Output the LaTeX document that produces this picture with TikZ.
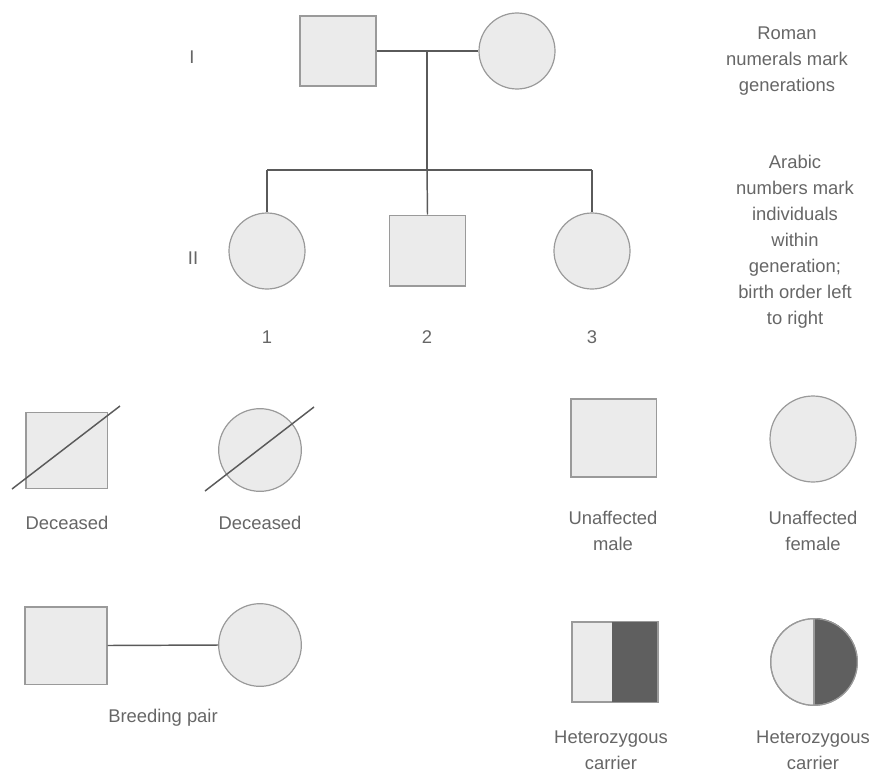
\documentclass[tikz,border=0pt]{standalone}
\usepackage{fontspec}
\setmainfont{Liberation Sans}
\definecolor{shapefill}{HTML}{EBEBEB}
\definecolor{shapeline}{HTML}{9A9A9A}
\definecolor{linkline}{HTML}{5A5A5A}
\definecolor{txt}{HTML}{666666}
\definecolor{darkfill}{HTML}{5F5F5F}
\begin{document}
\begin{tikzpicture}[x=0.75pt,y=-0.75pt,
  male/.style={rectangle,draw=shapeline,fill=shapefill,line width=1pt,inner sep=0pt},
  female/.style={circle,draw=shapeline,fill=shapefill,line width=0.9pt,inner sep=0pt},
  link/.style={draw=linkline,line width=1.1pt},
  lbl/.style={text=txt,font=\fontsize{13.8}{19.5}\selectfont,align=center,inner sep=0pt}]
\useasboundingbox (0,0) rectangle (877,774);
% generation I
\node[male,minimum width=57pt,minimum height=52.5pt] (m1) at (338,51) {};
\node[female,minimum size=57pt] (f1) at (517,51) {};
\draw[link] (m1.east) -- (f1.west);
\coordinate (mid) at (427,51);
\coordinate (sib) at (427,170);
\coordinate (sibL) at (267,170);
\coordinate (sibR) at (592,170);
% generation II
\node[female,minimum size=57pt] (c1) at (267,251) {};
\node[male,minimum width=57pt,minimum height=53pt] (c2) at (427.5,250.5) {};
\node[female,minimum size=57pt] (c3) at (592,251) {};
\draw[link] (mid) -- (sib);
\draw[link] (sibL) -- (sibR);
\draw[link] (sibL) -- (c1.north);
\draw[link] (sib) -- (c2.north);
\draw[link] (sibR) -- (c3.north);
\node[lbl] (gI) at (192,57) {I};
\node[lbl] (gII) at (193,258) {II};
\node[lbl] (n1) at (267,337) {1};
\node[lbl] (n2) at (427,337) {2};
\node[lbl] (n3) at (592,337) {3};
\node[lbl] (roman) at (787,61) {Roman\\numerals mark\\generations};
\node[lbl] (arabic) at (795,242) {Arabic\\numbers mark\\individuals\\within\\generation;\\birth order left\\to right};
% deceased
\node[male,minimum width=61pt,minimum height=57pt] (dm) at (66.5,450.5) {};
\coordinate (dmA) at (12,489);
\coordinate (dmB) at (120,406);
\draw[link] (dmA) -- (dmB);
\node[female,minimum size=62pt] (df) at (260,450) {};
\coordinate (dfA) at (205,491);
\coordinate (dfB) at (314,407);
\draw[link] (dfA) -- (dfB);
\node[lbl] (dl1) at (67,523) {Deceased};
\node[lbl] (dl2) at (260,523) {Deceased};
% unaffected
\node[male,minimum width=64pt,minimum height=58.5pt] (um) at (613.5,438) {};
\node[female,minimum size=64.5pt] (uf) at (813,439) {};
\node[lbl] (ul1) at (613,530.5) {Unaffected\\male};
\node[lbl] (ul2) at (813,530.5) {Unaffected\\female};
% breeding pair
\node[male,minimum width=61.5pt,minimum height=58pt] (bm) at (66,645.5) {};
\node[female,minimum size=62pt] (bf) at (260,645) {};
\draw[link] (bm.east) -- (bf.west);
\node[lbl] (bl) at (163,718) {Breeding pair};
% heterozygous carriers
\node[male,minimum width=64pt,minimum height=60pt] (hm) at (614.5,662) {};
\fill[darkfill] (612,622) rectangle (hm.north east |- hm.south);
\draw[shapeline,line width=1pt] (hm.north west) rectangle (hm.south east);
\node[female,minimum size=65pt] (hf) at (814,662) {};
\fill[darkfill] (hf.north) arc[start angle=90,end angle=-90,radius=32.5pt] -- cycle;
\draw[shapeline,line width=0.9pt] (hf.center) circle[radius=32.5pt];
\draw[shapeline,line width=0.9pt] (hf.north) -- (hf.south);
\node[lbl] (hl1) at (611,750) {Heterozygous\\carrier};
\node[lbl] (hl2) at (813,750) {Heterozygous\\carrier};
\end{tikzpicture}
\end{document}
